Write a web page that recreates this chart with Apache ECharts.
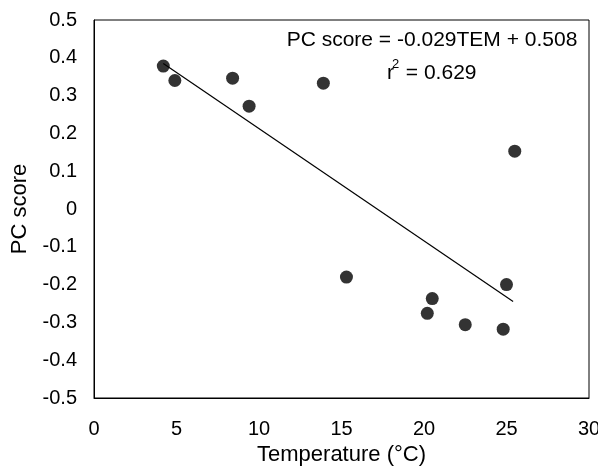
<!DOCTYPE html>
<html>
<head>
<meta charset="utf-8">
<script src="https://cdn.jsdelivr.net/npm/echarts@6/dist/echarts.min.js"></script>
<style>
  html, body { margin: 0; padding: 0; background: #fff; }
  #chart { width: 598px; height: 468px; }
</style>
</head>
<body>
<div id="chart"></div>
<script>
// temperature (°C) and PC score
const tempC = [4.2, 4.9, 8.4, 9.4, 13.9, 15.3, 20.2, 20.5, 22.5, 24.8, 25.0, 25.5];
const pcScore = [0.378, 0.340, 0.346, 0.272, 0.333, -0.180, -0.276, -0.237, -0.306, -0.318, -0.200, 0.153];
// regression line end points
const fitX = [4.2, 25.4];
const fitY = [0.385, -0.245];
const equationText = "PC score = -0.029TEM + 0.508";
const r2Text = "0.629";

const chart = echarts.init(document.getElementById("chart"), null, { renderer: "canvas" });
const font = "Liberation Sans, Arial, sans-serif";

chart.setOption({
  backgroundColor: "#fff",
  animation: false,
  grid: {
    left: 94, right: 9, top: 20, bottom: 70,
    containLabel: false,
    outerBoundsMode: "none",
    show: true, borderColor: "#000", borderWidth: 1,
  },
  xAxis: {
    type: "value",
    min: 0, max: 30, interval: 5,
    name: "Temperature (°C)",
    nameLocation: "middle",
    nameGap: 42,
    nameTextStyle: { color: "#000", fontSize: 22, fontFamily: font },
    axisLine: { show: true, onZero: false, lineStyle: { color: "#000", width: 1 } },
    axisTick: { show: false },
    splitLine: { show: false },
    axisLabel: { color: "#000", fontSize: 20, fontFamily: font, margin: 21 },
  },
  yAxis: {
    type: "value",
    min: -0.5, max: 0.5, interval: 0.1,
    name: "PC score",
    nameLocation: "middle",
    nameGap: 63,
    nameTextStyle: { color: "#000", fontSize: 22, fontFamily: font },
    axisLine: { show: true, onZero: false, lineStyle: { color: "#000", width: 1 } },
    axisTick: { show: false },
    splitLine: { show: false },
    axisLabel: {
      color: "#000", fontSize: 20, fontFamily: font, margin: 17,
      formatter: (v) => String(Math.round(v * 10) / 10),
    },
  },
  series: [
    {
      type: "line",
      data: fitX.map((x, i) => [x, fitY[i]]),
      symbol: "none",
      lineStyle: { color: "#000", width: 1.2 },
      z: 2,
    },
    {
      type: "scatter",
      data: tempC.map((x, i) => [x, pcScore[i]]),
      symbol: "circle",
      symbolSize: 13,
      itemStyle: { color: "#000" },
      z: 3,
    },
  ],
  graphic: [
    {
      type: "text",
      x: 432, y: 40,
      style: {
        text: equationText, fill: "#000", font: "21px " + font,
        textAlign: "center", textVerticalAlign: "middle",
      },
    },
    {
      type: "text",
      x: 387, y: 73,
      style: {
        text: "r", fill: "#000", font: "21px " + font,
        textAlign: "left", textVerticalAlign: "middle",
      },
    },
    {
      type: "text",
      x: 392, y: 64,
      style: {
        text: "2", fill: "#000", font: "13px " + font,
        textAlign: "left", textVerticalAlign: "middle",
      },
    },
    {
      type: "text",
      x: 400, y: 73,
      style: {
        text: " = " + r2Text, fill: "#000", font: "21px " + font,
        textAlign: "left", textVerticalAlign: "middle",
      },
    },
  ],
});

window.addEventListener("resize", () => chart.resize());
</script>
</body>
</html>
